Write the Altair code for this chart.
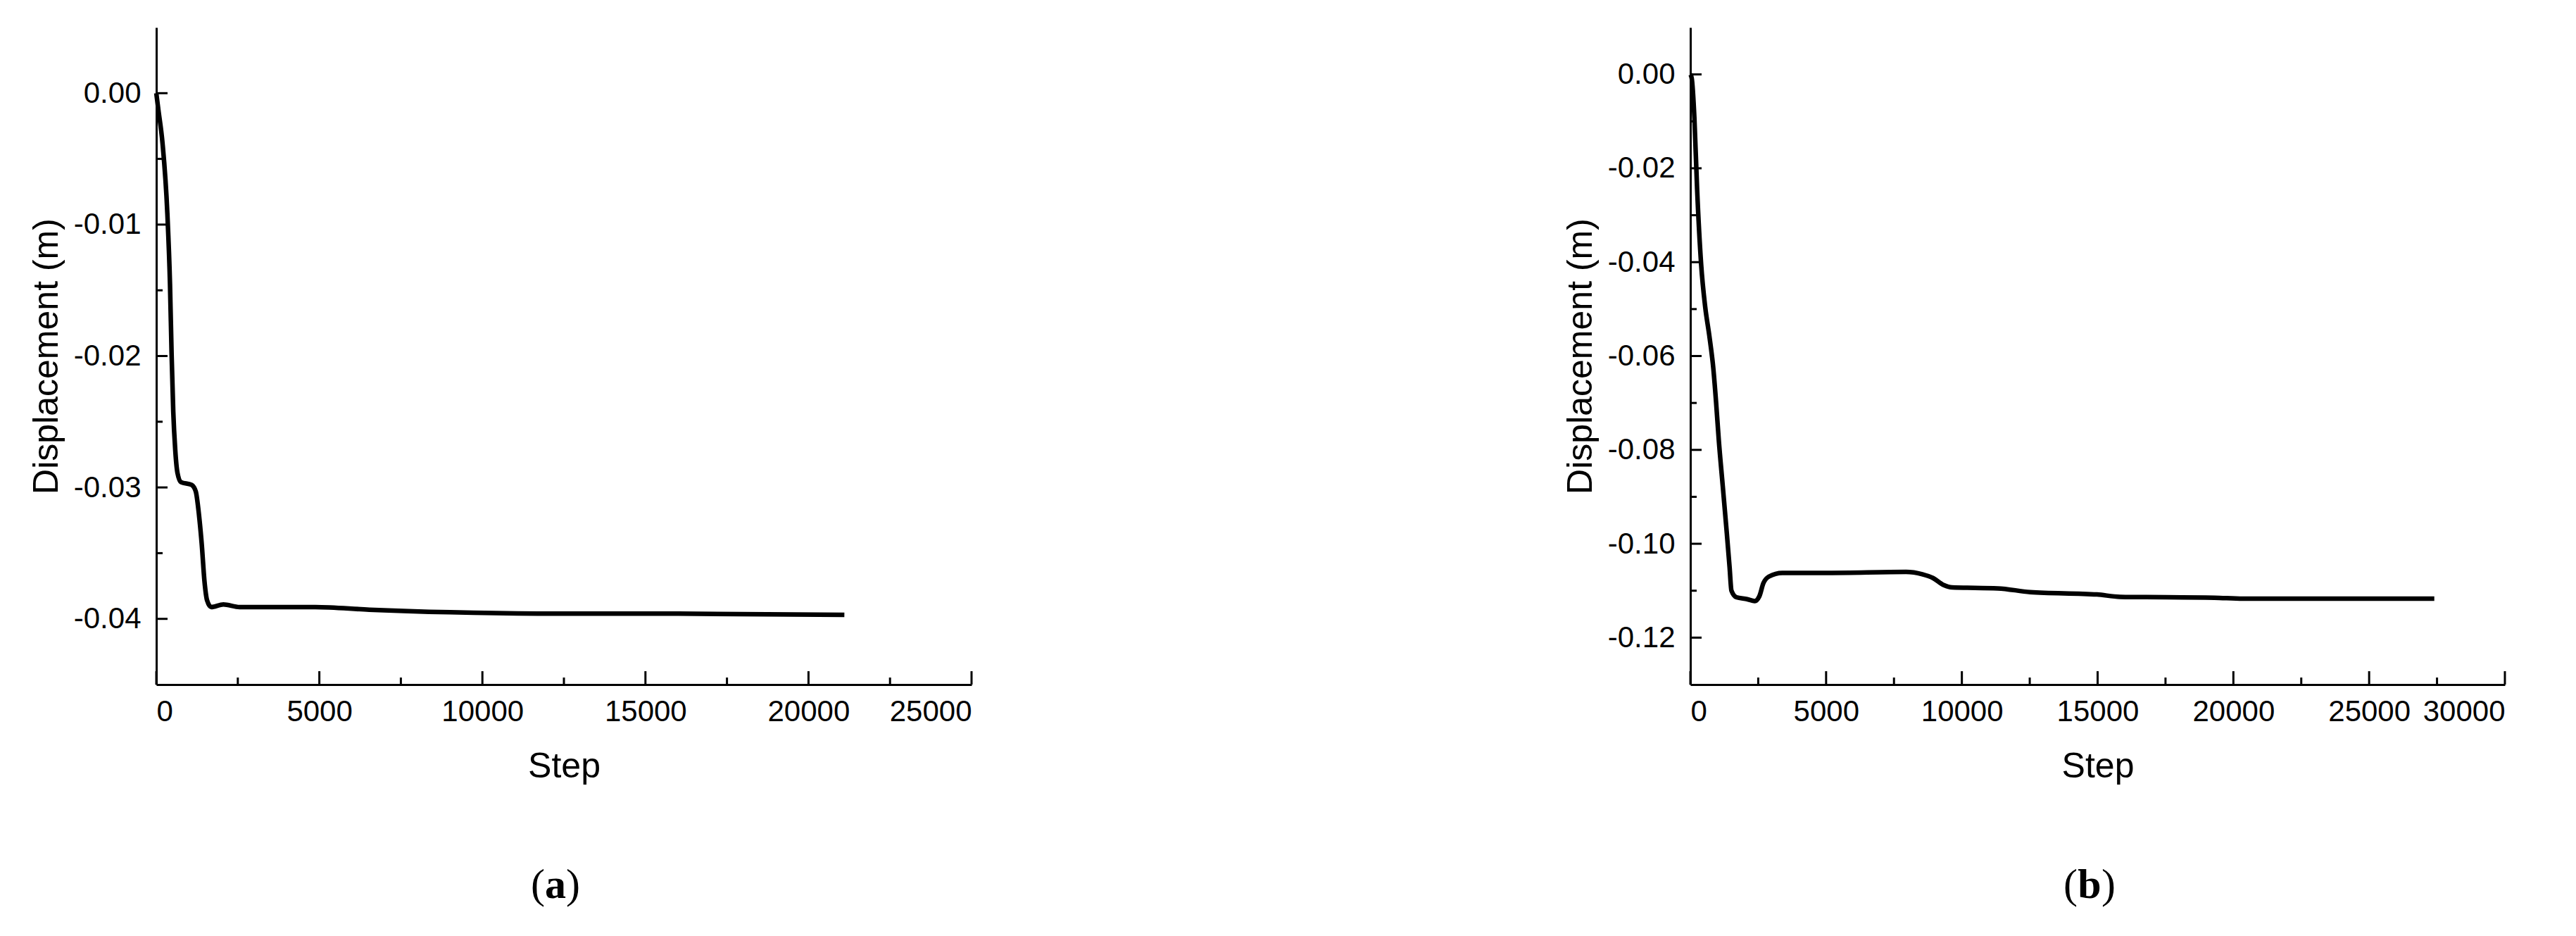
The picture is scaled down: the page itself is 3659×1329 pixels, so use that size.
import altair as alt
import pandas as pd

# ---------------- data ----------------
# panel (a)
steps_a = [0, 66, 191, 340, 420, 470, 520, 580, 650, 760, 1080, 1210, 1310, 1393, 1476,
           1558, 1683, 2056, 2553, 4875, 6530, 9009, 12050, 16000, 21100]
disp_a = [0.0, -0.0013, -0.0038, -0.0092, -0.0145, -0.0199, -0.0242, -0.0271, -0.0289,
          -0.0296, -0.0298, -0.0303, -0.0321, -0.0343, -0.0371, -0.0386, -0.0391, -0.0389,
          -0.0391, -0.0391, -0.0393, -0.0395, -0.0396, -0.0396, -0.0397]
xmaj_a = [0, 5000, 10000, 15000, 20000, 25000]
xmin_a = [2500, 7500, 12500, 17500, 22500]
ymaj_a = [0.0, -0.01, -0.02, -0.03, -0.04]
ymin_a = [-0.005, -0.015, -0.025, -0.035]

# panel (b)
steps_b = [0, 50, 150, 249, 398, 548, 697, 847, 946, 1046, 1195, 1345, 1444, 1514, 1693,
           2092, 2371, 2540, 2690, 2889, 3387, 5080, 7945, 8541, 8938, 9336, 9634, 11322,
           12514, 14977, 15820, 19300, 20350, 27400]
disp_b = [0.0, -0.0008, -0.0094, -0.0244, -0.0405, -0.0496, -0.0556, -0.0627, -0.0697,
          -0.0778, -0.0878, -0.0979, -0.1049, -0.1100, -0.1114, -0.1118, -0.1122, -0.1112,
          -0.1084, -0.1070, -0.1062, -0.1062, -0.1060, -0.1065, -0.1073, -0.1088, -0.1093,
          -0.1095, -0.1103, -0.1108, -0.1113, -0.1115, -0.1117, -0.1117]
xmaj_b = [0, 5000, 10000, 15000, 20000, 25000, 30000]
xmin_b = [2500, 7500, 12500, 17500, 22500, 27500]
ymaj_b = [0.0, -0.02, -0.04, -0.06, -0.08, -0.10, -0.12]
ymin_b = [-0.01, -0.03, -0.05, -0.07, -0.09, -0.11]

captions = ["a", "b"]

H = 933
LABEL_EXPR = "datum.value < 0 ? '-' + format(-datum.value, '.2f') : format(datum.value, '.2f')"


def panel(steps, disp, xdom, ydom, xmaj, xmin, ymaj, ymin, w, cap):
    xs = alt.Scale(domain=xdom, nice=False, zero=False)
    ys = alt.Scale(domain=ydom, nice=False, zero=False)
    x_enc = alt.X("step:Q", scale=xs,
                  axis=alt.Axis(values=xmaj, format="d", title="Step"))
    y_enc = alt.Y("disp:Q", scale=ys,
                  axis=alt.Axis(values=ymaj, labelExpr=LABEL_EXPR,
                                title="Displacement (m)"))
    df = pd.DataFrame({"step": steps, "disp": disp})
    line = alt.Chart(df).mark_line(color="black", strokeWidth=6.5,
                                   interpolate="monotone").encode(x=x_enc, y=y_enc)
    xt_maj = alt.Chart(pd.DataFrame({"step": xmaj})).mark_rule(
        color="black", strokeWidth=3).encode(x=x_enc, y=alt.value(H), y2=alt.value(H - 19))
    xt_min = alt.Chart(pd.DataFrame({"step": xmin})).mark_rule(
        color="black", strokeWidth=3).encode(x=x_enc, y=alt.value(H), y2=alt.value(H - 10))
    yt_maj = alt.Chart(pd.DataFrame({"disp": ymaj})).mark_rule(
        color="black", strokeWidth=3).encode(y=y_enc, x=alt.value(0), x2=alt.value(16))
    yt_min = alt.Chart(pd.DataFrame({"disp": ymin})).mark_rule(
        color="black", strokeWidth=3).encode(y=y_enc, x=alt.value(0), x2=alt.value(9))

    cx = 567
    cy = 1236
    fs = 60
    half = 15 if cap == "a" else 17
    lp = alt.Chart(pd.DataFrame({"t": ["("]})).mark_text(
        font="Liberation Serif", fontSize=fs, color="black", align="right",
        baseline="alphabetic").encode(text="t:N", x=alt.value(cx - half), y=alt.value(cy))
    mid = alt.Chart(pd.DataFrame({"t": [cap]})).mark_text(
        font="Liberation Serif", fontSize=fs, fontWeight="bold", color="black",
        align="center", baseline="alphabetic").encode(text="t:N", x=alt.value(cx), y=alt.value(cy))
    rp = alt.Chart(pd.DataFrame({"t": [")"]})).mark_text(
        font="Liberation Serif", fontSize=fs, color="black", align="left",
        baseline="alphabetic").encode(text="t:N", x=alt.value(cx + half), y=alt.value(cy))

    return alt.layer(line, xt_maj, xt_min, yt_maj, yt_min, lp, mid, rp).properties(
        width=w, height=H)


pa = panel(steps_a, disp_a, [0, 25000], [-0.045, 0.005], xmaj_a, xmin_a, ymaj_a, ymin_a,
           1158, captions[0])
pb = panel(steps_b, disp_b, [0, 30000], [-0.13, 0.01], xmaj_b, xmin_b, ymaj_b, ymin_b,
           1157, captions[1])

chart = alt.hconcat(pa, pb, spacing=838).properties(
    padding={"left": 33, "top": 31, "right": 5, "bottom": 5},
    background="white",
).configure_view(stroke=None).configure_axis(
    grid=False,
    ticks=False,
    tickSize=0,
    domainColor="black",
    domainWidth=3,
    labelFont="Liberation Sans",
    labelFontSize=42,
    labelColor="black",
    titleFont="Liberation Sans",
    titleFontSize=50,
    titleFontWeight="normal",
    titleColor="black",
).configure_axisX(labelPadding=18, titlePadding=32).configure_axisY(
    labelPadding=22, titlePadding=13)

chart.save("out.html", embed_options={"renderer": "svg", "actions": False})
